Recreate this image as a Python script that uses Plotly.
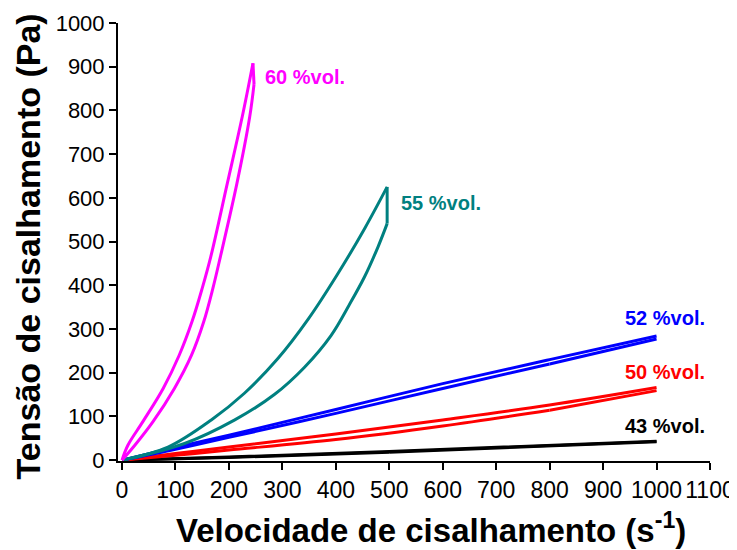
import plotly.graph_objects as go

# ---- data ----
x60_up = [0, 11, 39, 77, 107, 131, 150, 166, 197, 225, 245]
y60_up = [0, 34, 88, 164, 240, 317, 393, 465, 633, 786, 908]
x60_dn = [245, 247, 239, 215, 184, 170, 153, 130, 98, 58, 24, 0]
y60_dn = [908, 860, 786, 633, 465, 393, 317, 240, 164, 88, 34, 0]

x55_up = [0, 86, 167, 229, 292, 348, 404, 454, 496]
y55_up = [0, 30, 92, 153, 233, 322, 427, 530, 625]
x55_dn = [496, 496, 479, 454, 425, 391, 341, 285, 211, 117, 0]
y55_dn = [625, 541, 488, 420, 355, 285, 212, 150, 92, 38, 0]

x52_up = [0, 100, 200, 400, 600, 800, 1000]
y52_up = [0, 29, 57, 116, 175, 230, 284]
x52_dn = [1000, 800, 600, 400, 200, 100, 0]
y52_dn = [277, 220, 164, 107, 52, 25, 0]

x50_up = [0, 100, 200, 400, 600, 800, 1000]
y50_up = [0, 15, 30, 60, 92, 126, 166]
x50_dn = [1000, 800, 600, 400, 200, 100, 0]
y50_dn = [159, 114, 78, 47, 23, 11, 0]

x43_up = [0, 200, 500, 1000]
y43_up = [0, 7, 20, 43]
x43_dn = [1000, 500, 200, 0]
y43_dn = [42, 18, 6, 0]

labels = ["43 %vol.", "50 %vol.", "52 %vol.", "55 %vol.", "60 %vol."]
label_x = [938, 938, 938, 518, 264]
label_y = [78, 202, 326, 588, 876]

colors = ["#000000", "#FF0000", "#0000FF", "#008080", "#FF00FF"]

x_ticks = list(range(0, 1101, 100))
y_ticks = list(range(0, 1001, 100))

series = [
    (x43_up, y43_up, x43_dn, y43_dn),
    (x50_up, y50_up, x50_dn, y50_dn),
    (x52_up, y52_up, x52_dn, y52_dn),
    (x55_up, y55_up, x55_dn, y55_dn),
    (x60_up, y60_up, x60_dn, y60_dn),
]

FONT = "Arial, Liberation Sans, sans-serif"

fig = go.Figure()
for (xu, yu, xd, yd), c, name in zip(series, colors, labels):
    fig.add_trace(go.Scatter(x=xu, y=yu, mode="lines", name=name,
                             line=dict(color=c, width=3, shape="spline", smoothing=1.0),
                             showlegend=False, hoverinfo="skip"))
    # vertical drop at the top (linear), then the return branch (spline)
    fig.add_trace(go.Scatter(x=xd[:2], y=yd[:2], mode="lines",
                             line=dict(color=c, width=3),
                             showlegend=False, hoverinfo="skip"))
    fig.add_trace(go.Scatter(x=xd[1:], y=yd[1:], mode="lines",
                             line=dict(color=c, width=3, shape="spline", smoothing=1.0),
                             showlegend=False, hoverinfo="skip"))

for t, lx, ly, c in zip(labels, label_x, label_y, colors):
    fig.add_annotation(x=lx, y=ly, text="<b>" + t + "</b>", showarrow=False,
                       xanchor="left", yanchor="middle",
                       font=dict(family=FONT, size=20, color=c))

fig.add_annotation(xref="paper", yref="paper", x=0.529, y=-0.152,
                   text="<b>Velocidade de cisalhamento (s<sup>-1</sup>)</b>",
                   showarrow=False, xanchor="center", yanchor="middle",
                   font=dict(family=FONT, size=33, color="black"))
fig.add_annotation(xref="paper", yref="paper", x=-0.152, y=0.49,
                   text="<b>Tensão de cisalhamento (Pa)</b>", textangle=-90,
                   showarrow=False, xanchor="center", yanchor="middle",
                   font=dict(family=FONT, size=34, color="black"))

# the page body adds an 8px offset, so margins are shifted accordingly
fig.update_layout(
    width=737, height=550,
    margin=dict(l=110, r=35, t=15, b=97, autoexpand=False),
    paper_bgcolor="white", plot_bgcolor="white",
    font=dict(family=FONT, color="black"),
    xaxis=dict(range=[-7.5, 1100], tickvals=x_ticks, ticktext=[str(v) for v in x_ticks],
               automargin=False,
               showgrid=False, zeroline=False, showline=True, linecolor="black",
               linewidth=2, ticks="outside", ticklen=7, tickwidth=2, tickcolor="black",
               tickfont=dict(family=FONT, size=23, color="black")),
    yaxis=dict(range=[-2, 1000], tickvals=y_ticks, ticktext=[str(v) for v in y_ticks],
               automargin=False,
               showgrid=False, zeroline=False, showline=True, linecolor="black",
               linewidth=2, ticks="outside", ticklen=7, tickwidth=2, tickcolor="black",
               tickfont=dict(family=FONT, size=22, color="black")),
)

fig.write_html("out.html")
